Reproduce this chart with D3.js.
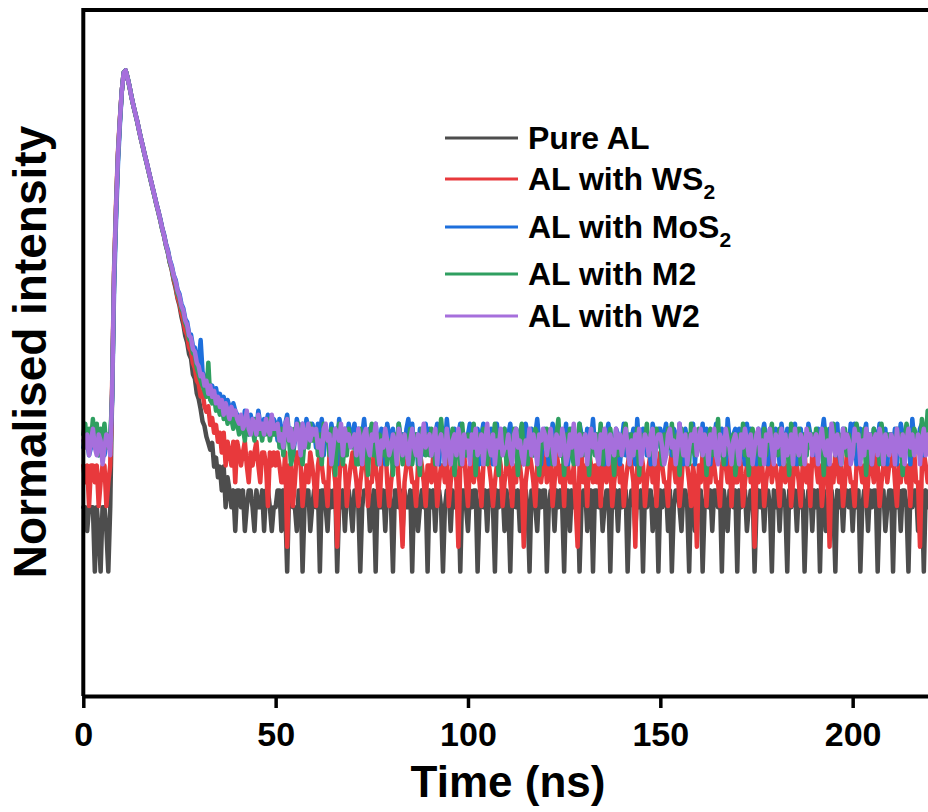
<!DOCTYPE html>
<html>
<head>
<meta charset="utf-8">
<script src="https://cdn.jsdelivr.net/npm/d3@7"></script>
<style>
  body { margin: 0; background: #fff; }
  text { font-family: "Liberation Sans", Arial, sans-serif; font-weight: bold; fill: #000; }
</style>
</head>
<body>
<svg id="chart" width="928" height="812"></svg>
<script>
// TCSPC decay traces, counts per 0.5 ns channel, channel 0 = 0 ns
var binWidth = 0.5;

var pureAL = [
  3,3,2,3,3,3,1,3,2,1,3,3,2,1,3,21,156,470,1200,2180,
  3640,4990,5200,4580,3950,3330,2860,2500,2180,1870,1610,1400,1215,1065,925,805,700,612,530,466,
  404,350,306,262,230,194,172,144,126,106,94,78,68,56,50,41,38,29,27,21,
  19,16,13,12,10,9,8,9,6,7,5,6,4,6,3,5,4,3,4,2,
  4,4,3,4,2,3,4,4,3,2,4,3,3,4,2,4,4,3,2,3,
  3,4,4,2,4,3,1,4,4,3,3,2,4,4,1,3,4,4,2,3,
  4,3,4,1,4,4,3,2,4,3,4,4,1,3,3,4,2,4,4,3,
  2,4,4,3,1,3,4,4,4,2,3,4,1,4,3,3,4,2,4,4,
  3,1,4,4,3,4,2,4,3,3,4,1,4,4,2,3,4,3,4,1,
  4,3,4,2,4,4,3,1,3,4,4,2,4,3,3,4,1,4,4,3,
  2,4,3,4,4,1,3,4,3,4,2,4,4,3,1,4,3,4,4,2,
  4,3,1,4,4,3,4,2,3,4,4,3,1,4,4,3,2,4,3,4,
  4,1,3,4,4,2,4,3,4,3,1,4,4,2,4,3,4,4,1,3,
  4,4,2,3,4,1,4,4,3,4,2,3,4,4,1,4,3,4,2,4,
  3,4,4,1,3,4,4,2,4,3,4,1,4,3,4,4,2,3,4,1,
  4,3,4,4,2,4,1,3,4,4,3,2,4,4,3,1,4,4,2,3,
  4,4,1,3,4,3,4,2,4,4,3,4,1,4,3,2,4,4,3,4,
  1,4,3,4,4,2,3,4,4,1,3,4,3,4,2,4,4,3,1,4,
  3,4,2,4,4,3,1,4,3,4,4,2,4,3,4,1,3,4,4,2,
  4,3,4,1,4,4,2,3,4,4,3,1,4,3,4,2,4,4,3,4,
  2,4,3,4,1,3,4,4,2,4,3,4,4,1,3,4,4,2,3,4,
  4,1,4,3,4,2,4,4,3,1,4,3,4,4,2,3,4,1,4,3
];

var withWS2 = [
  4,3,4,2,4,4,3,4,2,3,4,4,2,3,4,16,115,340,830,1480,
  2380,3260,3400,2990,2580,2180,1870,1630,1430,1220,1050,920,800,700,605,527,459,400,347,306,
  266,229,202,172,153,129,114,96,85,71,64,54,48,40,37,30,28,23,21,17,
  16,13,14,11,10,11,8,9,7,8,6,7,5,7,4,6,5,4,6,3,
  6,5,4,5,6,4,3,5,4,5,6,4,3,5,5,4,2,5,4,5,
  4,5,4,3,3,5,1,4,4,2,3,5,5,4,2,3,4,3,5,4,
  3,2,4,5,4,3,3,2,5,4,4,3,1,3,5,4,4,2,3,4,
  5,4,3,2,3,4,5,4,2,3,3,5,4,3,2,4,5,6,3,2,
  3,4,4,5,3,2,1,3,4,5,4,3,3,2,4,5,4,3,2,4,
  4,3,5,4,2,3,4,4,3,5,2,3,4,5,3,1,4,4,5,3,
  2,4,5,3,4,4,3,2,4,5,6,4,3,2,3,4,5,4,2,3,
  4,5,3,2,4,3,5,4,3,1,3,4,5,4,3,2,4,5,3,4,
  5,3,4,4,2,3,5,4,3,4,2,5,4,3,3,4,2,1,4,5,
  3,4,2,5,4,3,4,3,5,2,4,4,3,5,4,2,3,4,5,3,
  4,2,3,4,5,4,3,1,4,3,5,4,2,3,4,5,3,4,2,4,
  5,4,3,3,2,4,5,4,3,4,2,3,5,6,4,3,2,4,3,1,
  4,3,5,4,2,4,3,5,4,3,3,2,4,5,4,3,5,2,4,3,
  3,5,4,2,3,4,5,3,4,1,4,3,5,4,2,3,4,5,3,4,
  4,3,2,4,5,3,4,4,2,3,5,4,3,2,4,5,3,4,2,5,
  5,4,3,4,2,3,5,4,1,4,3,5,4,3,4,2,3,5,4,3,
  3,2,4,5,4,3,4,2,3,5,4,3,6,4,2,3,4,5,3,4,
  4,5,3,2,4,3,5,4,3,4,2,4,5,3,3,1,4,5,4,3
];

var withMoS2 = [
  8,10,9,7,8,9,10,8,7,9,8,7,9,8,9,18,120,380,1000,1950,
  3450,4800,5000,4420,3820,3220,2770,2410,2110,1810,1560,1360,1180,1030,895,780,680,595,515,455,
  398,340,304,258,232,196,178,152,140,118,110,93,86,72,68,56,55,45,44,35,
  33,50,29,27,24,26,21,23,19,22,18,20,17,19,15,18,16,14,17,15,
  14,12,13,11,15,12,10,14,12,13,11,15,12,10,13,12,14,11,12,13,
  12,9,13,11,8,12,14,10,11,7,9,13,11,10,12,8,13,11,9,12,
  11,8,12,10,13,7,11,10,8,12,9,11,6,13,10,8,11,9,12,9,
  10,12,8,11,7,10,13,9,6,11,8,10,12,9,7,11,10,6,12,10,
  9,11,6,8,12,9,10,7,11,13,9,12,8,10,6,11,7,10,12,9,
  11,7,8,10,12,6,11,10,8,13,9,7,6,11,9,10,12,8,10,7,
  10,12,9,7,10,11,6,10,12,8,10,7,11,6,10,12,9,10,8,11,
  7,10,12,9,8,11,10,7,10,6,12,10,8,11,7,10,13,9,6,10,
  11,9,6,8,12,10,9,11,7,10,9,12,6,8,11,9,10,7,12,10,
  10,8,11,6,9,13,8,10,7,11,10,6,10,12,9,7,8,11,10,6,
  9,12,7,8,10,9,11,6,13,8,9,11,10,7,10,6,12,10,8,11,
  11,6,10,12,8,10,7,11,10,7,12,9,6,11,9,8,10,12,6,10,
  10,8,12,7,11,10,6,10,9,12,7,8,11,9,6,13,9,8,10,11,
  7,11,10,8,6,12,9,11,8,10,6,11,7,10,12,9,6,11,8,10,
  11,10,6,12,9,7,11,7,10,9,12,6,9,11,8,10,7,12,10,8,
  10,7,11,8,10,13,9,6,11,8,10,9,12,7,6,11,9,10,8,12,
  9,12,6,9,11,8,10,12,7,10,6,11,10,9,12,7,10,11,6,10,
  10,8,11,6,9,12,10,7,11,9,6,13,9,10,8,11,12,7,10,11
];

var withM2 = [
  10,12,8,11,9,13,8,12,7,11,9,12,8,10,9,20,148,445,1140,2090,
  3480,4820,5000,4410,3790,3190,2740,2390,2090,1790,1540,1340,1160,1015,880,765,668,583,505,444,
  388,332,295,250,223,189,170,145,132,111,102,86,80,67,62,51,49,40,39,31,
  28,25,23,21,19,34,18,17,19,15,16,14,17,13,15,12,14,13,11,14,
  12,10,13,11,9,14,10,12,11,9,13,10,11,9,12,10,13,9,11,10,
  10,12,8,11,7,10,13,9,6,7,11,10,12,8,6,9,11,8,12,9,
  9,11,7,10,6,12,9,10,7,11,9,5,10,12,8,6,10,7,11,9,
  8,10,6,6,11,8,10,9,5,10,12,7,9,6,10,9,7,11,6,9,
  9,5,10,8,12,9,6,10,7,9,11,6,8,10,7,5,11,9,7,10,
  7,11,9,6,10,8,13,9,6,10,7,9,11,5,9,10,6,12,8,7,
  10,7,9,12,5,9,10,7,11,8,6,10,7,9,12,8,5,10,9,11,
  6,10,9,7,11,8,5,10,12,7,9,6,10,8,7,11,10,5,9,8,
  9,11,7,10,6,9,10,13,7,9,5,10,8,11,7,6,10,9,12,7,
  10,7,9,5,11,9,7,10,8,12,6,9,10,7,11,8,5,10,7,9,
  7,10,12,8,6,10,7,9,11,5,10,8,9,12,7,10,8,6,11,9,
  9,6,10,7,11,8,12,7,9,10,5,11,7,9,10,6,12,8,7,10,
  11,8,7,10,5,9,11,7,10,8,13,7,9,6,10,11,7,9,10,5,
  7,10,8,12,7,9,5,10,11,7,9,10,6,8,11,7,10,9,12,7,
  10,7,11,8,6,10,9,5,12,10,7,9,11,6,9,10,7,11,8,10,
  8,11,7,10,9,5,11,8,7,10,12,7,9,10,6,9,11,7,10,8,
  7,9,12,10,7,8,11,5,10,9,7,11,8,10,6,12,9,7,10,8,
  10,8,7,11,9,10,5,9,12,10,7,9,11,10,8,7,13,10,9,15
];

var withW2 = [
  9,8,10,7,9,11,8,7,10,9,6,8,10,9,7,20,150,450,1150,2100,
  3500,4800,5000,4400,3800,3200,2750,2400,2100,1800,1550,1350,1170,1025,890,775,675,590,510,450,
  392,338,297,255,226,194,174,150,136,116,106,90,83,70,65,54,52,43,41,34,
  32,27,28,23,25,20,23,19,21,17,19,16,18,14,17,15,13,16,14,15,
  13,12,14,11,12,15,11,10,13,12,10,14,11,12,10,13,11,10,14,11,
  11,12,9,10,8,12,13,9,11,8,9,12,10,7,12,8,10,12,9,11,
  10,11,8,9,7,11,12,9,10,6,8,11,10,9,12,7,11,9,10,8,
  9,10,7,11,9,6,10,11,8,7,10,9,12,8,6,9,8,11,9,7,
  8,10,9,6,11,9,7,10,8,6,9,11,8,7,10,6,9,12,8,9,
  10,7,9,11,6,9,10,8,6,11,8,6,9,10,7,11,9,6,10,8,
  9,6,10,8,11,7,8,10,6,9,12,8,7,10,6,9,8,11,7,8,
  8,10,7,6,10,11,8,9,7,6,9,8,11,7,10,8,6,10,9,11,
  10,7,9,11,8,6,10,9,7,11,9,6,7,10,8,12,9,6,10,7,
  9,10,6,9,11,8,10,7,6,10,8,11,9,6,10,8,7,11,8,10,
  7,9,11,8,6,9,7,10,8,11,6,8,10,9,7,10,11,6,9,10,
  10,8,6,7,10,11,8,9,6,8,12,9,7,10,6,8,10,9,11,7,
  9,11,7,10,9,6,10,8,11,7,6,10,9,7,11,9,8,6,9,10,
  8,6,10,8,11,9,7,10,6,8,10,11,7,9,6,10,9,11,8,6,
  10,8,9,11,6,10,7,8,10,6,11,8,7,10,9,6,11,9,10,7,
  9,10,6,9,11,8,7,9,6,12,9,7,10,8,6,11,8,10,9,6,
  7,11,9,10,6,9,7,11,8,10,6,9,10,7,11,9,6,10,8,7,
  10,9,6,11,8,7,10,6,9,11,8,10,7,8,10,6,9,11,7,10
];

var seriesData = [pureAL, withWS2, withMoS2, withM2, withW2];
var legendMain = ["Pure AL", "AL with WS", "AL with MoS", "AL with M2", "AL with W2"];
var legendSub = ["", "2", "2", "", ""];
var colors = ["#4d4d4d", "#e8393c", "#1d6fdc", "#2f9f60", "#a66fdc"];
var xTicks = [0, 50, 100, 150, 200];

var svg = d3.select("#chart"),
    plotLeft = 83.3, plotTop = 10, plotBottom = 696;

var x = d3.scaleLinear().domain([0, 220]).range([plotLeft, 929.6]);
// log intensity axis, peak normalised to 1
var y = d3.scaleLog().domain([2.3e-5, 2.8]).range([plotBottom, plotTop]);

svg.append("rect").attr("width", 928).attr("height", 812).attr("fill", "#fff");

var line = d3.line()
    .x(function(d, i) { return x(i * binWidth); })
    .y(function(d) { return y(d); });

seriesData.forEach(function(arr, k) {
  var peak = d3.max(arr);
  svg.append("path")
    .datum(arr.map(function(c) { return c / peak; }))
    .attr("fill", "none")
    .attr("stroke", colors[k])
    .attr("stroke-width", 4.5)
    .attr("stroke-linejoin", "round")
    .attr("stroke-linecap", "round")
    .attr("d", line);
});

// frame: left axis + top line
svg.append("path")
  .attr("d", "M" + plotLeft + "," + plotBottom + "V" + plotTop + "H" + 935)
  .attr("fill", "none")
  .attr("stroke", "#000")
  .attr("stroke-width", 4);

var xAxis = svg.append("g")
    .attr("transform", "translate(0," + plotBottom + ")")
    .call(d3.axisBottom(x).tickValues(xTicks).tickSize(12).tickSizeOuter(0).tickPadding(14));

xAxis.select(".domain").attr("stroke", "#000").attr("stroke-width", 4);
xAxis.selectAll(".tick line").attr("stroke", "#000").attr("stroke-width", 3.5);
xAxis.selectAll(".tick text")
    .style("font-family", "'Liberation Sans', Arial, sans-serif")
    .style("font-weight", "bold")
    .style("font-size", "34px")
    .attr("fill", "#000");

svg.append("text")
  .attr("x", 508)
  .attr("y", 797)
  .attr("text-anchor", "middle")
  .style("font-size", "44px")
  .text("Time (ns)");

svg.append("text")
  .attr("transform", "translate(46,352) rotate(-90)")
  .attr("text-anchor", "middle")
  .style("font-size", "46px")
  .text("Normalised intensity");

// legend
var legendRowY = [138, 179, 227, 274, 316];
legendMain.forEach(function(name, k) {
  var ly = legendRowY[k];
  svg.append("line")
    .attr("x1", 445).attr("x2", 518)
    .attr("y1", ly).attr("y2", ly)
    .attr("stroke", colors[k])
    .attr("stroke-width", 3);
  var t = svg.append("text")
    .attr("x", 528)
    .attr("y", ly + 11)
    .style("font-size", "32px");
  t.append("tspan").text(name);
  if (legendSub[k]) {
    t.append("tspan")
      .attr("dy", 9)
      .style("font-size", "21px")
      .text(legendSub[k]);
  }
});
</script>
</body>
</html>
